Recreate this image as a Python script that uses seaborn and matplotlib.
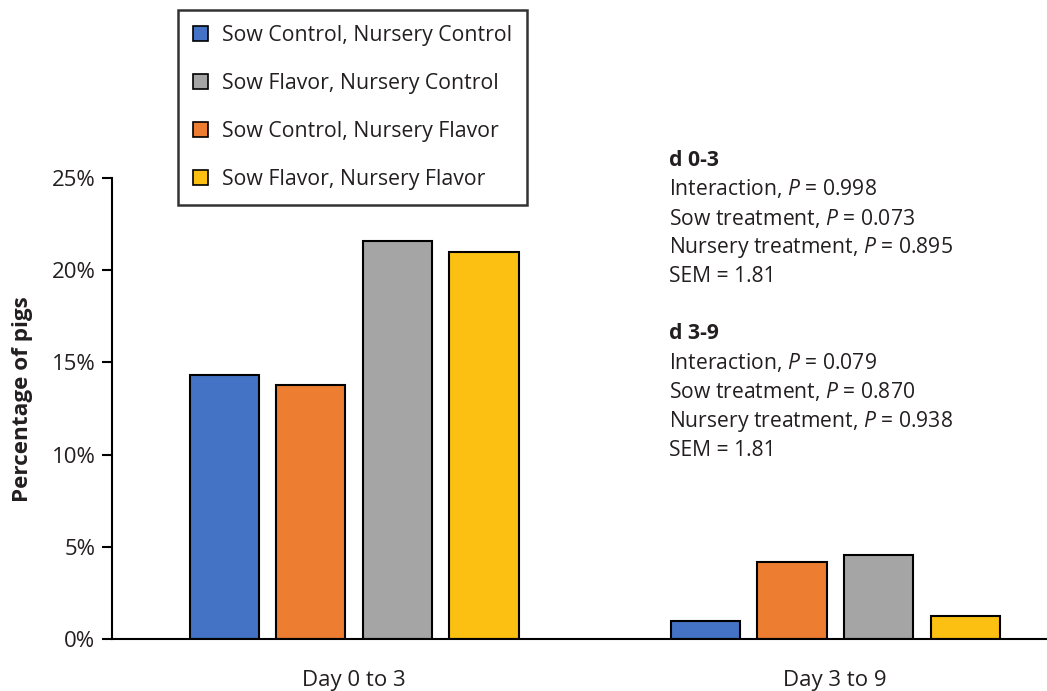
import matplotlib
matplotlib.use("Agg")
import matplotlib.pyplot as plt
import seaborn as sns
import pandas as pd
from matplotlib.patches import Patch
from matplotlib.ticker import FuncFormatter

sns.set_theme(style="white")
plt.rcParams["font.family"] = ["Open Sans", "DejaVu Sans"]
plt.rcParams["mathtext.fontset"] = "custom"
plt.rcParams["mathtext.rm"] = "Open Sans"
plt.rcParams["mathtext.it"] = "Open Sans:italic"
plt.rcParams["mathtext.bf"] = "Open Sans:bold"

# Data
periods = ["Day 0 to 3", "Day 3 to 9"]
groups = [
    "Sow Control, Nursery Control",
    "Sow Control, Nursery Flavor",
    "Sow Flavor, Nursery Control",
    "Sow Flavor, Nursery Flavor",
]
sc_nc = [14.3, 1.0]
sc_nf = [13.8, 4.2]
sf_nc = [21.6, 4.55]
sf_nf = [21.0, 1.25]
legend_order = [
    "Sow Control, Nursery Control",
    "Sow Flavor, Nursery Control",
    "Sow Control, Nursery Flavor",
    "Sow Flavor, Nursery Flavor",
]
colors = {
    "Sow Control, Nursery Control": "#4472C4",
    "Sow Control, Nursery Flavor": "#ED7D31",
    "Sow Flavor, Nursery Control": "#A5A5A5",
    "Sow Flavor, Nursery Flavor": "#FBC012",
}
TXT = "#231f20"

rows = []
for g, vals in zip(groups, [sc_nc, sc_nf, sf_nc, sf_nf]):
    for p, v in zip(periods, vals):
        rows.append({"period": p, "group": g, "value": v})
df = pd.DataFrame(rows)

fig = plt.figure(figsize=(10.47, 6.91), dpi=100)
ax = fig.add_axes([0.107, 0.0753, 0.893, 0.667])

sns.barplot(data=df, x="period", y="value", hue="group", hue_order=groups,
            order=periods, palette=colors, saturation=1, width=0.72, gap=0.2,
            edgecolor="black", linewidth=1.5, ax=ax, legend=False)

ax.set_ylim(0, 25)
ax.set_xlim(-0.503, 1.44)
ax.set_yticks([0, 5, 10, 15, 20, 25])
ax.yaxis.set_major_formatter(FuncFormatter(lambda v, _: f"{v:.0f}%"))
ax.set_xlabel("")
ax.set_ylabel("Percentage of pigs", fontsize=16.2, fontweight="bold", color=TXT)
ax.yaxis.set_label_coords(-0.084, 0.52)

for s in ["top", "right"]:
    ax.spines[s].set_visible(False)
for s in ["left", "bottom"]:
    ax.spines[s].set_color("black")
    ax.spines[s].set_linewidth(1.5)
ax.tick_params(axis="y", direction="out", length=7, width=1.5, color="black",
               labelsize=16, pad=5, left=True, labelcolor=TXT)
ax.tick_params(axis="x", length=0, labelsize=16, pad=22, labelcolor=TXT)

handles = [Patch(facecolor=colors[g], edgecolor="black", linewidth=1.2) for g in legend_order]
leg = fig.legend(handles, legend_order, loc="upper left",
                 bbox_to_anchor=(178 / 1047, 1 - 10 / 691),
                 fontsize=15.3, frameon=True, fancybox=False,
                 handlelength=0.7, handleheight=0.7, handletextpad=0.65,
                 labelspacing=1.26, borderpad=0.72, borderaxespad=0)
leg.get_frame().set_edgecolor("black")
leg.get_frame().set_linewidth(1.8)
for t in leg.get_texts():
    t.set_color(TXT)

# Statistics annotation
x0 = 669 / 1047
blocks = [
    (160, "d 0-3", ["Interaction, $P$ = 0.998", "Sow treatment, $P$ = 0.073",
                    "Nursery treatment, $P$ = 0.895", "SEM = 1.81"]),
    (334, "d 3-9", ["Interaction, $P$ = 0.079", "Sow treatment, $P$ = 0.870",
                    "Nursery treatment, $P$ = 0.938", "SEM = 1.81"]),
]
for ytop, head, lines in blocks:
    fig.text(x0, 1 - ytop / 691, head, fontsize=15.2, fontweight="bold",
             va="center", ha="left", color=TXT)
    for i, line in enumerate(lines):
        fig.text(x0, 1 - (ytop + 29 * (i + 1)) / 691, line, fontsize=15.2,
                 va="center", ha="left", color=TXT)

fig.savefig("out.png", dpi=100)
